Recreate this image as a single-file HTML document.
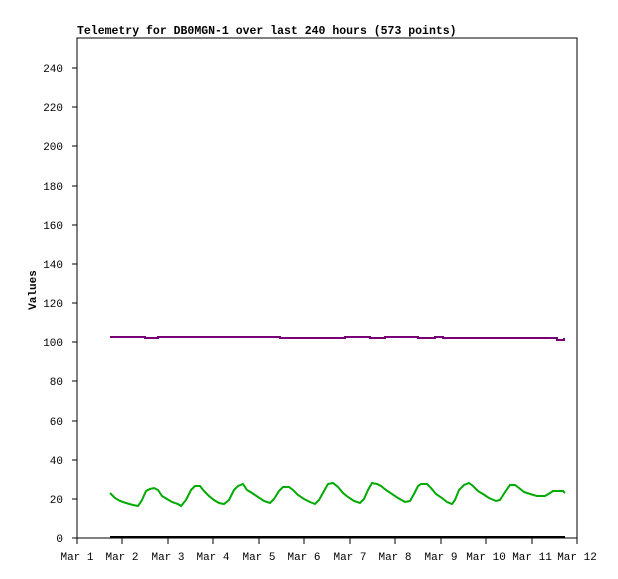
<!DOCTYPE html>
<html><head><style>body{margin:0;background:#fff}svg{display:block}</style></head><body>
<svg width="618" height="579" xmlns="http://www.w3.org/2000/svg" font-family="Liberation Mono, DejaVu Sans Mono, monospace" font-size="11">
<rect width="618" height="579" fill="#fff"/>
<text x="77" y="34" font-weight="bold" font-size="11.5">Telemetry for DB0MGN-1 over last 240 hours (573 points)</text>
<rect x="77" y="38" width="500" height="500" fill="none" stroke="#000" stroke-width="1"/>
<g text-anchor="end">
<text x="63" y="542">0</text><text x="63" y="503">20</text><text x="63" y="464">40</text><text x="63" y="425">60</text><text x="63" y="385">80</text><text x="63" y="346">100</text><text x="63" y="307">120</text><text x="63" y="268">140</text><text x="63" y="229">160</text><text x="63" y="190">180</text><text x="63" y="150">200</text><text x="63" y="111">220</text><text x="63" y="72">240</text>
</g>
<g stroke="#000" stroke-width="1">
<line x1="72" y1="538" x2="77" y2="538"/><line x1="72" y1="499" x2="77" y2="499"/><line x1="72" y1="460" x2="77" y2="460"/><line x1="72" y1="421" x2="77" y2="421"/><line x1="72" y1="381" x2="77" y2="381"/><line x1="72" y1="342" x2="77" y2="342"/><line x1="72" y1="303" x2="77" y2="303"/><line x1="72" y1="264" x2="77" y2="264"/><line x1="72" y1="225" x2="77" y2="225"/><line x1="72" y1="186" x2="77" y2="186"/><line x1="72" y1="146" x2="77" y2="146"/><line x1="72" y1="107" x2="77" y2="107"/><line x1="72" y1="68" x2="77" y2="68"/>
<line x1="77" y1="538" x2="77" y2="544"/><line x1="122" y1="538" x2="122" y2="544"/><line x1="168" y1="538" x2="168" y2="544"/><line x1="213" y1="538" x2="213" y2="544"/><line x1="259" y1="538" x2="259" y2="544"/><line x1="304" y1="538" x2="304" y2="544"/><line x1="350" y1="538" x2="350" y2="544"/><line x1="395" y1="538" x2="395" y2="544"/><line x1="441" y1="538" x2="441" y2="544"/><line x1="486" y1="538" x2="486" y2="544"/><line x1="532" y1="538" x2="532" y2="544"/><line x1="577" y1="538" x2="577" y2="544"/>
</g>
<g text-anchor="middle">
<text x="77" y="560">Mar 1</text><text x="122" y="560">Mar 2</text><text x="168" y="560">Mar 3</text><text x="213" y="560">Mar 4</text><text x="259" y="560">Mar 5</text><text x="304" y="560">Mar 6</text><text x="350" y="560">Mar 7</text><text x="395" y="560">Mar 8</text><text x="441" y="560">Mar 9</text><text x="486" y="560">Mar 10</text><text x="532" y="560">Mar 11</text><text x="577" y="560">Mar 12</text>
</g>
<text x="36" y="290" font-weight="bold" text-anchor="middle" transform="rotate(-90 36 290)">Values</text>
<line x1="110" y1="537" x2="565" y2="537" stroke="#000" stroke-width="2"/>
<polyline fill="none" stroke="#770077" stroke-width="2" points="110,337 145,337 145,338 158,338 158,337 280,337 280,338 345,338 345,337 370,337 370,338 385,338 385,337 418,337 418,338 435,338 435,337 443,337 443,338 557,338 557,340 564,340 564,338"/>
<polyline fill="none" stroke="#00aa00" stroke-width="2" points="110,493 115,498 120,501 126,503 133,505 138,506 142,500 146,491 150,489 154,488 158,490 162,496 167,499 172,502 178,504 181,506 186,500 191,490 195,486 200,486 204,491 209,496 214,500 219,503 224,504 229,500 234,490 238,486 243,484 247,490 252,493 258,497 264,501 270,503 274,499 279,491 283,487 289,487 293,490 298,495 304,499 310,502 315,504 319,500 324,491 328,484 333,483 338,487 343,493 348,497 354,501 360,503 364,499 368,490 372,483 377,484 381,486 386,490 392,494 398,498 405,502 410,501 414,494 418,486 421,484 427,484 431,488 436,494 442,498 447,502 452,504 455,500 459,490 464,485 469,483 473,486 478,491 483,494 489,498 496,501 500,500 505,492 510,485 515,485 519,488 524,492 530,494 537,496 545,496 550,493 553,491 557,491 563,491 565,493"/>
</svg>
</body></html>
